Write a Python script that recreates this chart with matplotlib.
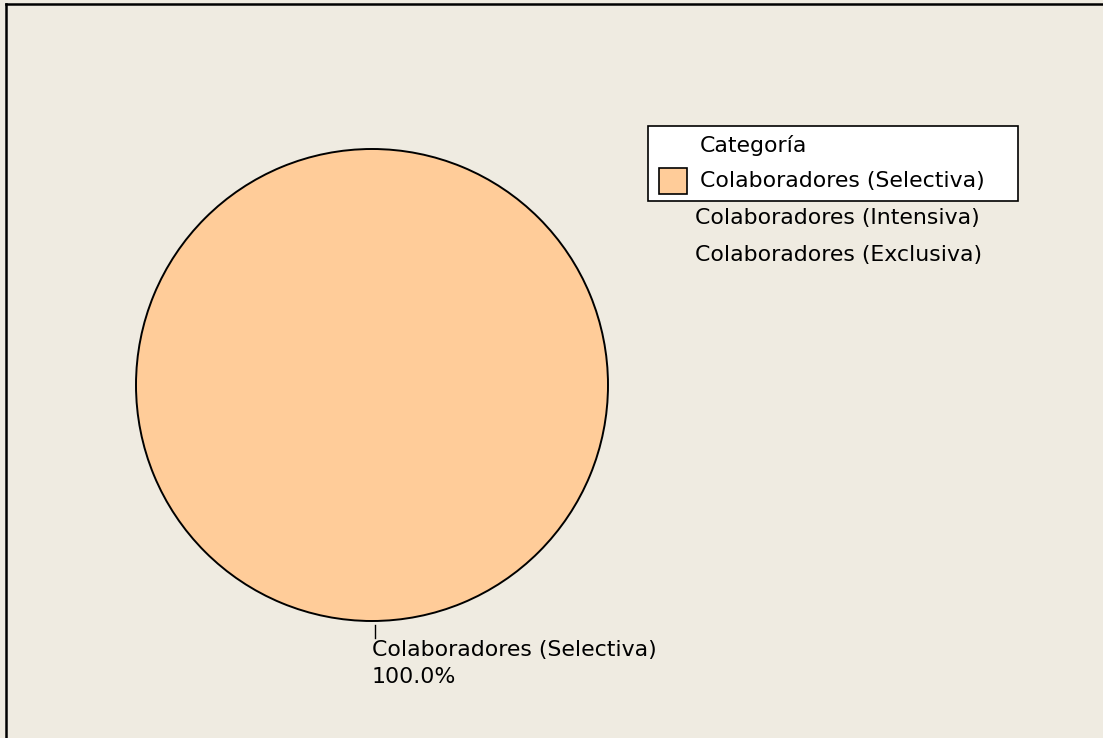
import matplotlib.pyplot as plt
from matplotlib.patches import Rectangle
from matplotlib.lines import Line2D

categorias = ['Colaboradores (Selectiva)', 'Colaboradores (Intensiva)', 'Colaboradores (Exclusiva)']
conteos = [1, 0, 0]
colores = ['#FFCC99', '#99CCFF', '#CCFF99']

fondo = '#EFEBE1'
W, H = 1103, 738

plt.rcParams['font.family'] = ['DejaVu Sans']
fig = plt.figure(figsize=(W / 100, H / 100), dpi=100, facecolor=fondo)


def fx(px):
    return px / W


def fy(py):
    return 1 - py / H


# pie axes placed in pixel terms
cx, cy, r = 372, 385, 236
ax = fig.add_axes([fx(cx - r), fy(cy + r), 2 * r / W, 2 * r / H])
ax.set_facecolor(fondo)

total = sum(conteos)
vals = [v for v in conteos if v > 0]
cols = [c for v, c in zip(conteos, colores) if v > 0]
ax.pie(vals, colors=cols, startangle=90, counterclock=False, radius=1,
       wedgeprops=dict(edgecolor='black', linewidth=1.4))
ax.set_xlim(-1, 1)
ax.set_ylim(-1, 1)
ax.set_aspect('equal')
ax.axis('off')

fs = 15.8

# slice label under the pie with a short leader
for cat, v in zip(categorias, conteos):
    if v > 0:
        pct = 100.0 * v / total
        fig.add_artist(Line2D([fx(375), fx(375)], [fy(625), fy(638)], color='black', lw=1))
        fig.text(fx(372), fy(650), cat, ha='left', va='center', fontsize=fs)
        fig.text(fx(372), fy(677), f'{pct:.1f}%', ha='left', va='center', fontsize=fs)

# legend box: title and the non-zero categories
fig.add_artist(Rectangle((fx(648), fy(201)), (1018 - 648) / W, 75 / H,
                         transform=fig.transFigure, facecolor='white',
                         edgecolor='black', linewidth=1.2))
fig.text(fx(700), fy(145), 'Categoría', ha='left', va='center', fontsize=fs)
y = 181
for cat, v, c in zip(categorias, conteos, colores):
    if v > 0:
        fig.add_artist(Rectangle((fx(659), fy(y + 13)), 28 / W, 26 / H,
                                 transform=fig.transFigure, facecolor=c,
                                 edgecolor='black', linewidth=1.2))
        fig.text(fx(700), fy(y), cat, ha='left', va='center', fontsize=fs)
        y += 36

# zero-count categories listed under the box, no swatch
y = 218
for cat, v in zip(categorias, conteos):
    if v == 0:
        fig.text(fx(695), fy(y), cat, ha='left', va='center', fontsize=fs)
        y += 37

# frame along the top and left edges
fig.add_artist(Line2D([fx(6), 1.0], [fy(4), fy(4)], color='black', lw=1.8))
fig.add_artist(Line2D([fx(6), fx(6)], [0.0, fy(4)], color='black', lw=1.8))

fig.savefig('out.png', dpi=100, facecolor=fondo)
